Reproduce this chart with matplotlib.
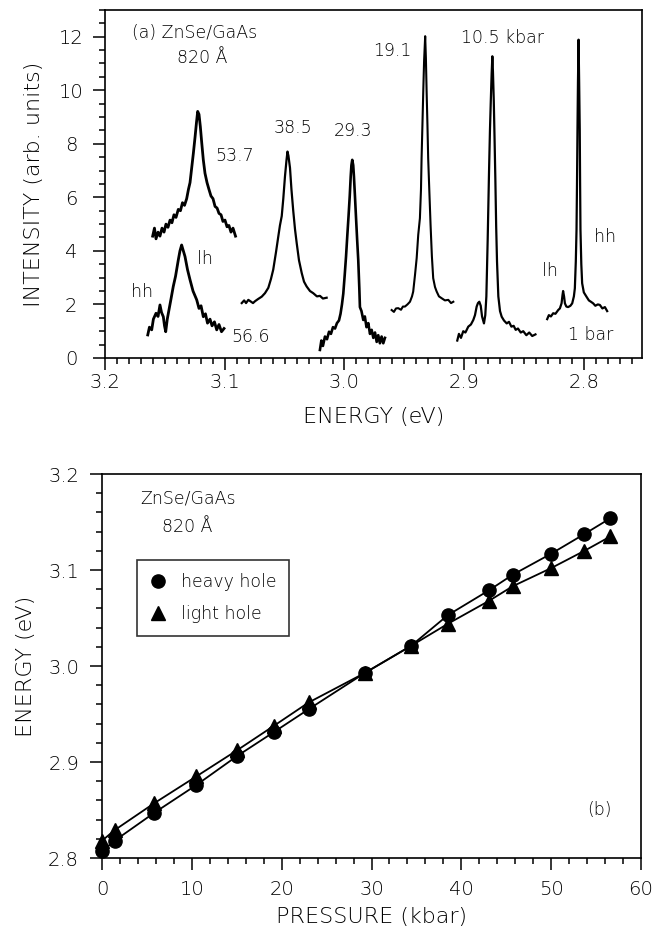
import matplotlib

matplotlib.use("Agg")
import matplotlib.pyplot as plt
from matplotlib.lines import Line2D
from matplotlib.ticker import FormatStrFormatter, MultipleLocator

plt.rcParams["font.family"] = ["DejaVu Sans"]
plt.rcParams["font.weight"] = "light"
plt.rcParams["axes.labelweight"] = "light"

# --- (a) PL spectra, energy (eV) vs intensity (arb. units) ---
e_566 = [3.1643, 3.1629, 3.1610, 3.1596, 3.1574, 3.1557, 3.1541, 3.1528, 3.1513, 3.1503,
         3.1493, 3.1480, 3.1466, 3.1449, 3.1430, 3.1411, 3.1388, 3.1374, 3.1360, 3.1349,
         3.1332, 3.1311, 3.1290, 3.1265, 3.1234, 3.1215, 3.1198, 3.1179, 3.1161, 3.1144,
         3.1123, 3.1106, 3.1086, 3.1067, 3.1048, 3.1027, 3.1006]
i_566 = [0.86, 1.15, 1.05, 1.45, 1.67, 1.55, 1.98, 1.70, 1.54, 1.20,
         0.98, 1.45, 1.79, 2.20, 2.67, 3.05, 3.66, 4.00, 4.22, 4.05,
         3.79, 3.30, 2.92, 2.50, 2.17, 1.85, 1.95, 1.54, 1.65, 1.30,
         1.45, 1.20, 1.35, 1.05, 1.25, 0.98, 1.10]

e_537 = [3.1602, 3.1587, 3.1574, 3.1557, 3.1541, 3.1524, 3.1507, 3.1491, 3.1474, 3.1457,
         3.1441, 3.1424, 3.1407, 3.1388, 3.1370, 3.1353, 3.1336, 3.1318, 3.1303, 3.1290,
         3.1276, 3.1262, 3.1248, 3.1236, 3.1226, 3.1215, 3.1204, 3.1192, 3.1179, 3.1165,
         3.1148, 3.1132, 3.1115, 3.1098, 3.1081, 3.1064, 3.1048, 3.1031, 3.1015, 3.0998,
         3.0981, 3.0965, 3.0948, 3.0931, 3.0910]
i_537 = [4.55, 4.85, 4.45, 4.70, 4.55, 4.85, 4.70, 5.00, 4.88, 5.15,
         5.05, 5.35, 5.25, 5.55, 5.50, 5.80, 5.70, 5.95, 6.30, 6.55,
         7.10, 7.65, 8.25, 8.80, 9.21, 9.10, 8.65, 8.03, 7.40, 6.90,
         6.55, 6.30, 6.05, 5.95, 5.66, 5.60, 5.40, 5.35, 5.10, 5.15,
         4.90, 4.95, 4.70, 4.85, 4.55]

e_385 = [3.0858, 3.0838, 3.0822, 3.0803, 3.0780, 3.0764, 3.0747, 3.0722, 3.0691, 3.0664,
         3.0636, 3.0614, 3.0595, 3.0572, 3.0553, 3.0539, 3.0524, 3.0511, 3.0497, 3.0484,
         3.0476, 3.0468, 3.0455, 3.0443, 3.0428, 3.0413, 3.0399, 3.0380, 3.0357, 3.0338,
         3.0316, 3.0288, 3.0261, 3.0230, 3.0205, 3.0180, 3.0149]
i_385 = [2.05, 2.15, 2.05, 2.17, 2.10, 2.05, 2.12, 2.20, 2.29, 2.42,
         2.62, 2.95, 3.30, 3.95, 4.53, 4.95, 5.30, 5.95, 6.78, 7.40,
         7.71, 7.55, 7.10, 6.30, 5.50, 4.80, 4.29, 3.65, 3.17, 2.85,
         2.67, 2.50, 2.42, 2.30, 2.32, 2.22, 2.25]

e_293 = [3.0205, 3.0193, 3.0180, 3.0163, 3.0146, 3.0129, 3.0113, 3.0096, 3.0079, 3.0063,
         3.0046, 3.0033, 3.0021, 3.0010, 2.9998, 2.9987, 2.9976, 2.9966, 2.9956, 2.9948,
         2.9942, 2.9935, 2.9927, 2.9921, 2.9912, 2.9904, 2.9894, 2.9885, 2.9876, 2.9871,
         2.9858, 2.9843, 2.9830, 2.9816, 2.9801, 2.9787, 2.9773, 2.9759, 2.9745, 2.9731,
         2.9718, 2.9704, 2.9690, 2.9676, 2.9662]
i_293 = [0.30, 0.65, 0.45, 0.80, 0.70, 0.98, 0.90, 1.15, 1.10, 1.30,
         1.40, 1.65, 2.00, 2.40, 3.10, 3.79, 4.60, 5.30, 6.05, 6.78,
         7.20, 7.40, 7.20, 6.78, 6.00, 5.28, 4.40, 3.66, 2.60, 1.90,
         1.75, 1.42, 1.55, 1.15, 1.30, 0.90, 1.05, 0.75, 0.95, 0.60,
         0.85, 0.55, 0.80, 0.55, 0.75]

e_191 = [2.9606, 2.9587, 2.9570, 2.9551, 2.9528, 2.9512, 2.9495, 2.9474, 2.9453, 2.9436,
         2.9426, 2.9411, 2.9397, 2.9384, 2.9370, 2.9361, 2.9356, 2.9349, 2.9342, 2.9335,
         2.9326, 2.9320, 2.9314, 2.9307, 2.9301, 2.9291, 2.9281, 2.9270, 2.9259, 2.9244,
         2.9230, 2.9211, 2.9188, 2.9161, 2.9133, 2.9110, 2.9091]
i_191 = [1.79, 1.72, 1.85, 1.86, 1.80, 1.92, 1.92, 2.00, 2.10, 2.30,
         2.48, 3.10, 3.73, 4.60, 5.22, 6.30, 7.47, 8.70, 9.96, 11.10,
         12.02, 11.20, 9.96, 8.70, 7.47, 6.20, 4.97, 3.80, 2.98, 2.65,
         2.48, 2.30, 2.23, 2.15, 2.17, 2.05, 2.10]

e_105 = [2.9058, 2.9044, 2.9027, 2.9008, 2.8990, 2.8966, 2.8944, 2.8924, 2.8910, 2.8896,
         2.8885, 2.8874, 2.8862, 2.8851, 2.8835, 2.8824, 2.8815, 2.8804, 2.8793, 2.8785,
         2.8778, 2.8771, 2.8765, 2.8760, 2.8753, 2.8747, 2.8740, 2.8733, 2.8726, 2.8715,
         2.8701, 2.8687, 2.8668, 2.8645, 2.8626, 2.8606, 2.8587, 2.8570, 2.8551, 2.8528,
         2.8507, 2.8481, 2.8457, 2.8432, 2.8405]
i_105 = [0.65, 0.90, 0.75, 1.00, 0.95, 1.17, 1.25, 1.42, 1.60, 1.92,
         2.05, 2.10, 1.95, 1.55, 1.29, 1.60, 2.30, 4.41, 6.90, 8.50,
         9.60, 10.60, 11.27, 10.70, 9.60, 8.30, 6.70, 4.90, 3.60, 2.30,
         1.75, 1.54, 1.40, 1.29, 1.35, 1.17, 1.20, 1.05, 1.10, 0.95,
         1.00, 0.85, 0.95, 0.82, 0.88]

e_1bar = [2.8307, 2.8293, 2.8276, 2.8257, 2.8238, 2.8215, 2.8201, 2.8187, 2.8179, 2.8174,
          2.8166, 2.8159, 2.8147, 2.8132, 2.8113, 2.8098, 2.8084, 2.8076, 2.8068, 2.8062,
          2.8058, 2.8054, 2.8050, 2.8045, 2.8040, 2.8035, 2.8032, 2.8029, 2.8022, 2.8015,
          2.8001, 2.7979, 2.7959, 2.7942, 2.7923, 2.7905, 2.7884, 2.7867, 2.7846, 2.7825,
          2.7806]
i_1bar = [1.45, 1.60, 1.55, 1.67, 1.65, 1.79, 1.85, 2.04, 2.35, 2.50,
          2.30, 2.04, 1.92, 1.90, 1.95, 2.04, 2.30, 2.60, 3.60, 4.79,
          6.50, 8.52, 10.30, 11.89, 10.30, 8.52, 6.50, 4.79, 3.50, 2.79,
          2.45, 2.29, 2.15, 2.10, 2.04, 1.95, 2.00, 1.98, 1.85, 1.90,
          1.75]

# label text, energy, intensity, horizontal alignment
spectrum_labels = [
    ("53.7", 3.1080, 7.53, "left"),
    ("lh", 3.1165, 3.70, "center"),
    ("hh", 3.1690, 2.48, "center"),
    ("56.6", 3.0942, 0.80, "left"),
    ("38.5", 3.0434, 8.59, "center"),
    ("29.3", 2.9928, 8.46, "center"),
    ("19.1", 2.9600, 11.45, "center"),
    ("10.5 kbar", 2.8681, 11.95, "center"),
    ("lh", 2.8282, 3.23, "center"),
    ("hh", 2.7823, 4.53, "center"),
    ("1 bar", 2.7943, 0.86, "center"),
]

# --- (b) exciton energies vs pressure ---
pressure = [0.0, 1.4, 5.8, 10.5, 15.0, 19.1, 23.0, 29.3, 34.4, 38.5, 43.1, 45.7, 50.0, 53.7, 56.6]
energy_hh = [2.807, 2.818, 2.847, 2.876, 2.906, 2.931, 2.955, 2.993, 3.021, 3.053,
             3.079, 3.095, 3.117, 3.1375, 3.154]
energy_lh = [2.818, 2.829, 2.857, 2.885, 2.912, 2.9375, 2.962, 2.993, 3.021, 3.044,
             3.068, 3.083, 3.102, 3.120, 3.135]


def _style_axes(ax):
    for sp in ax.spines.values():
        sp.set_linewidth(1.2)
    ax.tick_params(which="both", direction="out", width=1.1, top=False, right=False)
    ax.tick_params(which="major", length=8.5, labelsize=14)
    ax.tick_params(which="minor", length=4)


fig = plt.figure(figsize=(6.68, 9.3), dpi=100)
ax_a = fig.add_axes([0.1572, 0.6151, 0.8039, 0.3742])
ax_b = fig.add_axes([0.1527, 0.0774, 0.8069, 0.4129])

# panel (a): noisy low-intensity traces look heavier
spectra = [(e_566, i_566, 2.0), (e_537, i_537, 2.0), (e_385, i_385, 1.6), (e_293, i_293, 1.9),
           (e_191, i_191, 1.5), (e_105, i_105, 1.6), (e_1bar, i_1bar, 1.6)]
for e, i, lw in spectra:
    ax_a.plot(e, i, color="black", linewidth=lw, solid_joinstyle="round")

ax_a.set_xlim(3.2, 2.7515)
ax_a.set_ylim(0, 13)
_style_axes(ax_a)
ax_a.xaxis.set_major_locator(MultipleLocator(0.1))
ax_a.xaxis.set_minor_locator(MultipleLocator(0.01))
ax_a.xaxis.set_major_formatter(FormatStrFormatter("%.1f"))
ax_a.yaxis.set_major_locator(MultipleLocator(2))
ax_a.yaxis.set_minor_locator(MultipleLocator(0.5))
ax_a.tick_params(axis="x", which="major", pad=2)
ax_a.tick_params(axis="y", which="major", pad=16)
for lbl in ax_a.get_yticklabels():
    lbl.set_horizontalalignment("center")

ax_a.text(3.1777, 12.14, "(a) ZnSe/GaAs", fontsize=12.5, ha="left", va="center")
ax_a.text(3.1186, 11.2, "820 Å", fontsize=12.5, ha="center", va="center")
for txt, x, y, ha in spectrum_labels:
    ax_a.text(x, y, txt, fontsize=12.5, ha=ha, va="center")

ax_a.set_xlabel("ENERGY (eV)", fontsize=16)
ax_a.set_ylabel("INTENSITY (arb. units)", fontsize=16)
ax_a.xaxis.set_label_coords(0.5, -0.141)
ax_a.yaxis.set_label_coords(-0.114, 0.5)

# panel (b)
ax_b.plot(pressure, energy_hh, color="black", linewidth=1.3, marker="o",
          markersize=9.5, clip_on=False, zorder=3)
ax_b.plot(pressure, energy_lh, color="black", linewidth=1.3, marker="^",
          markersize=10.5, clip_on=False, zorder=3)

ax_b.set_xlim(0, 60)
ax_b.set_ylim(2.8, 3.2)
_style_axes(ax_b)
ax_b.xaxis.set_major_locator(MultipleLocator(10))
ax_b.xaxis.set_minor_locator(MultipleLocator(2))
ax_b.yaxis.set_major_locator(MultipleLocator(0.1))
ax_b.yaxis.set_minor_locator(MultipleLocator(0.02))
ax_b.yaxis.set_major_formatter(FormatStrFormatter("%.1f"))
ax_b.tick_params(axis="x", which="major", pad=7)
ax_b.tick_params(axis="y", which="major", pad=8)

ax_b.text(4.23, 3.1747, "ZnSe/GaAs", fontsize=12.5, ha="left", va="center")
ax_b.text(9.47, 3.145, "820 Å", fontsize=12.5, ha="center", va="center")
ax_b.text(55.35, 2.85, "(b)", fontsize=12.5, ha="center", va="center")

handles = [
    Line2D([], [], color="black", marker="o", markersize=9.5, linestyle="none", label="heavy hole"),
    Line2D([], [], color="black", marker="^", markersize=10.5, linestyle="none", label="light hole"),
]
leg = ax_b.legend(handles=handles, loc="upper left", bbox_to_anchor=(0.064, 0.776),
                  fontsize=12.5, frameon=True, fancybox=False, borderaxespad=0,
                  handlelength=1.0, handletextpad=0.8, borderpad=0.75, labelspacing=0.8)
leg.get_frame().set_edgecolor("black")
leg.get_frame().set_linewidth(1.2)

ax_b.set_xlabel("PRESSURE (kbar)", fontsize=16)
ax_b.set_ylabel("ENERGY (eV)", fontsize=16)
ax_b.xaxis.set_label_coords(0.5, -0.128)
ax_b.yaxis.set_label_coords(-0.122, 0.5)

fig.savefig("out.png", dpi=100)
